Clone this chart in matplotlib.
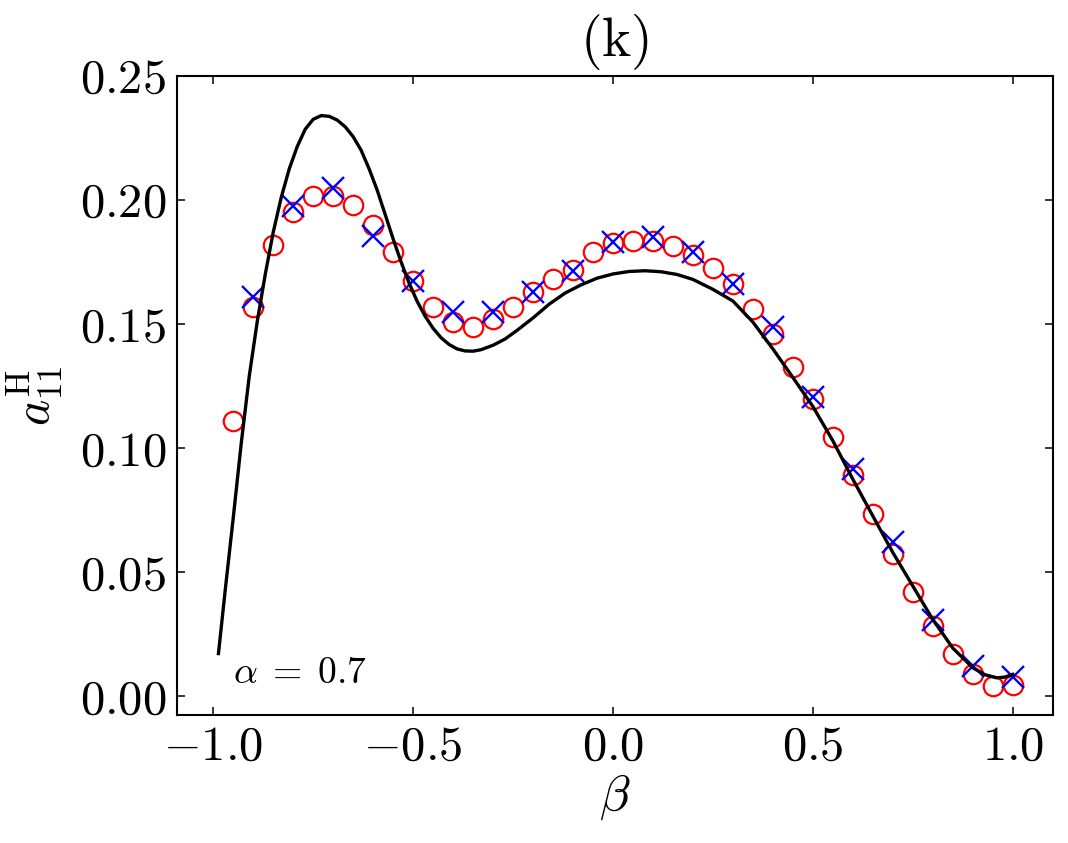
import numpy as np
import matplotlib
matplotlib.use("Agg")
import matplotlib.pyplot as plt
from matplotlib.ticker import FuncFormatter, MultipleLocator

plt.rcParams['mathtext.fontset'] = 'cm'
plt.rcParams['font.family'] = 'serif'
plt.rcParams['font.serif'] = ['cmr10', 'DejaVu Serif']
plt.rcParams['axes.unicode_minus'] = False

# black curve (theory)
beta_line = [-0.987, -0.97, -0.95, -0.93, -0.91, -0.89, -0.87, -0.85, -0.83, -0.81,
             -0.79, -0.77, -0.75, -0.73, -0.71, -0.69, -0.67, -0.65, -0.63, -0.61,
             -0.59, -0.57, -0.55, -0.53, -0.51, -0.49, -0.47, -0.45, -0.43, -0.41,
             -0.39, -0.37, -0.35, -0.33, -0.30, -0.27, -0.24, -0.20, -0.16, -0.12,
             -0.08, -0.04, 0.00, 0.04, 0.08, 0.12, 0.16, 0.20, 0.25, 0.30,
             0.35, 0.40, 0.45, 0.50, 0.55, 0.60, 0.65, 0.70, 0.75, 0.80,
             0.85, 0.90, 0.93, 0.96, 0.98, 1.0]
a_line = [0.0173, 0.043, 0.072, 0.102, 0.129, 0.151, 0.170, 0.187, 0.201, 0.2125,
          0.2215, 0.2285, 0.2325, 0.2340, 0.2337, 0.2322, 0.2295, 0.2255, 0.2200, 0.2125,
          0.2040, 0.1942, 0.1843, 0.1750, 0.1665, 0.1592, 0.1532, 0.1483, 0.1445, 0.1418,
          0.1400, 0.1392, 0.1391, 0.1397, 0.1415, 0.1440, 0.1475, 0.1525, 0.1580, 0.1625,
          0.1658, 0.1685, 0.1702, 0.1712, 0.1715, 0.1711, 0.1700, 0.1680, 0.1640, 0.1593,
          0.1508, 0.1400, 0.1285, 0.1168, 0.1030, 0.0875, 0.0727, 0.0580, 0.0445, 0.0310,
          0.0195, 0.0116, 0.0088, 0.0075, 0.0078, 0.0089]

# red open circles
beta_circ = [-0.95, -0.9, -0.85, -0.8, -0.75, -0.7, -0.65, -0.6, -0.55, -0.5,
             -0.45, -0.4, -0.35, -0.3, -0.25, -0.2, -0.15, -0.1, -0.05, 0.0,
             0.05, 0.1, 0.15, 0.2, 0.25, 0.3, 0.35, 0.4, 0.45, 0.5,
             0.55, 0.6, 0.65, 0.7, 0.75, 0.8, 0.85, 0.9, 0.95, 1.0]
a_circ = [0.111, 0.157, 0.182, 0.195, 0.2015, 0.2017, 0.198, 0.190, 0.179, 0.1675,
          0.157, 0.151, 0.149, 0.152, 0.157, 0.163, 0.168, 0.172, 0.179, 0.1825,
          0.1835, 0.1835, 0.1815, 0.178, 0.1726, 0.166, 0.156, 0.146, 0.1327, 0.1198,
          0.1047, 0.0891, 0.0734, 0.0573, 0.0422, 0.0284, 0.0173, 0.0089, 0.0042, 0.0046]

# blue crosses
beta_x = [-0.9, -0.8, -0.7, -0.6, -0.5, -0.4, -0.3, -0.2, -0.1, 0.0,
          0.1, 0.2, 0.3, 0.4, 0.5, 0.6, 0.7, 0.8, 0.9, 1.0]
a_x = [0.161, 0.1977, 0.205, 0.1856, 0.1675, 0.155, 0.155, 0.163, 0.1715, 0.183,
       0.185, 0.179, 0.166, 0.149, 0.1208, 0.0918, 0.0622, 0.0308, 0.0122, 0.0079]

fig = plt.figure(figsize=(10.68, 8.43), dpi=100)
ax = fig.add_axes([0.166, 0.152, 0.8197, 0.758])

ax.plot(beta_circ, a_circ, 'o', mfc='none', mec='red', ms=14, mew=1.6)
ax.plot(beta_x, a_x, 'x', color='blue', ms=15.5, mew=1.7)
ax.plot(beta_line, a_line, '-', color='black', lw=2.4)

ax.set_xlim(-1.09, 1.10)
ax.set_ylim(-0.0074, 0.25)
ax.xaxis.set_major_locator(MultipleLocator(0.5))
ax.yaxis.set_major_locator(MultipleLocator(0.05))
ax.xaxis.set_major_formatter(FuncFormatter(lambda v, p: r'$%.1f$' % v))
ax.yaxis.set_major_formatter(FuncFormatter(lambda v, p: r'$%.2f$' % v))
ax.tick_params(direction='in', top=True, right=True, length=6, width=1.1,
               labelsize=35, pad=8)
for s in ax.spines.values():
    s.set_linewidth(1.5)

ax.set_xlabel(r'$\beta$', fontsize=36, labelpad=2)
ax.set_ylabel(r'$a_{11}^{\mathrm{H}}$', fontsize=36)
ax.yaxis.set_label_coords(-0.128, 0.5)
ax.set_title(r'$\mathrm{(k)}$', fontsize=40, pad=14)
ax.text(-0.95, 0.0095, r'$\alpha\;=\;0.7$', fontsize=27, ha='left', va='center')

fig.savefig('out.png', dpi=100)
